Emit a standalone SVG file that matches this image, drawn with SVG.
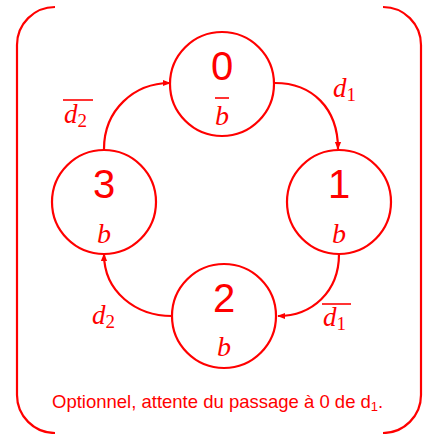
<svg xmlns="http://www.w3.org/2000/svg" width="424" height="434" viewBox="0 0 424 434">
<defs>
<marker id="ah" viewBox="0 0 10 10" refX="9" refY="5" markerWidth="8" markerHeight="8" markerUnits="userSpaceOnUse" orient="auto">
<path d="M0,1 L10,5 L0,9 Z" fill="#ff0000"/>
</marker>
<style>
.st{fill:none;stroke:#ff0000;stroke-width:2.2}
.node circle{fill:#ffffff;stroke:#ff0000;stroke-width:2.2}
.dig{font-family:"Liberation Sans",Arial,sans-serif;font-size:40px;fill:#ff0000;text-anchor:middle}
.var{font-family:"Liberation Serif","Times New Roman",serif;font-style:italic;font-size:28px;fill:#ff0000;text-anchor:middle}
.lab{font-family:"Liberation Serif","Times New Roman",serif;font-style:italic;font-size:27px;fill:#ff0000}
.sub{font-style:normal;font-size:19px}
.bar{stroke:#ff0000;stroke-width:1.6}
.note{font-family:"Liberation Sans",Arial,sans-serif;font-size:18.5px;fill:#ff0000}
</style>
</defs>
<g id="brackets" class="st">
<path d="M55,7 A38,38 0 0 0 17,45 L17,395 A38,38 0 0 0 55,433"/>
<path d="M383,7 A38,38 0 0 1 421,45 L421,395 A38,38 0 0 1 383,433"/>
</g>
<g id="connectors" class="st">
<path d="M275,83 C312,83 338,108 338,149" marker-end="url(#ah)"/>
<path d="M339,254 C339,292 312,316 278,316" marker-end="url(#ah)"/>
<path d="M172,316 C136,316 104,292 104,254" marker-end="url(#ah)"/>
<path d="M104,149 C104,110 134,83 170,83" marker-end="url(#ah)"/>
</g>
<g id="labels">
<text class="lab" x="333" y="97">d<tspan class="sub" dy="4">1</tspan></text>
<text class="lab" x="64" y="123">d<tspan class="sub" dy="4">2</tspan></text>
<line class="bar" x1="63" y1="100" x2="93" y2="100"/>
<text class="lab" x="92" y="324">d<tspan class="sub" dy="4">2</tspan></text>
<text class="lab" x="323" y="326">d<tspan class="sub" dy="4">1</tspan></text>
<line class="bar" x1="322" y1="304" x2="351" y2="304"/>
</g>
<g id="n0" class="node">
<circle cx="222" cy="84" r="52"/>
<text class="dig" x="222" y="80">0</text>
<text class="var" x="222" y="125">b</text>
<line class="bar" x1="215" y1="98" x2="229" y2="98"/>
</g>
<g id="n1" class="node">
<circle cx="339" cy="202" r="52"/>
<text class="dig" x="339" y="198">1</text>
<text class="var" x="339" y="243">b</text>
</g>
<g id="n2" class="node">
<circle cx="224" cy="316" r="52"/>
<text class="dig" x="224" y="312">2</text>
<text class="var" x="224" y="356">b</text>
</g>
<g id="n3" class="node">
<circle cx="104" cy="202" r="52"/>
<text class="dig" x="104" y="198">3</text>
<text class="var" x="104" y="243">b</text>
</g>
<text class="note" x="52" y="408">Optionnel, attente du passage à 0 de d<tspan font-size="13px" dy="3">1</tspan><tspan dy="-3">.</tspan></text>
</svg>
